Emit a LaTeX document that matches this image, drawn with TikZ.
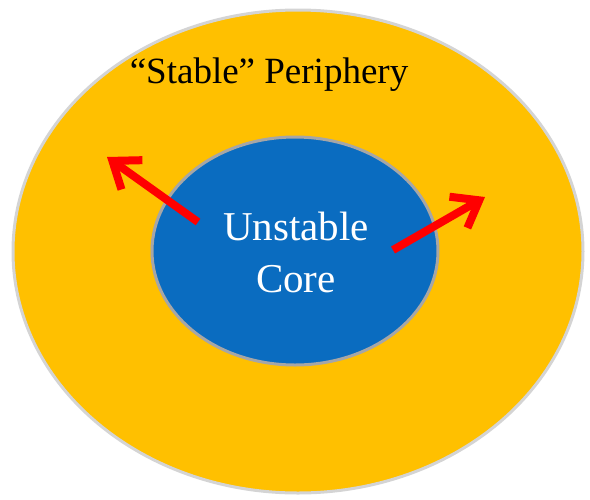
\documentclass[tikz,border=0pt]{standalone}
\usepackage{fontspec}
\setmainfont{Liberation Serif}
\usepackage{xcolor}
\usepackage{tikz}
\usetikzlibrary{arrows.meta, positioning, shapes.geometric}
\definecolor{periphfill}{HTML}{FFC000}
\definecolor{periphstroke}{HTML}{D4D4D4}
\definecolor{corefill}{HTML}{0A6CC0}
\definecolor{corestroke}{HTML}{A6A6A6}
\definecolor{arrowred}{HTML}{FF0000}
\tikzset{
    periph/.style={ellipse, draw=periphstroke, fill=periphfill, line width=3pt,
    minimum width=570pt, minimum height=483pt, inner sep=0pt},
    core/.style={ellipse, draw=corestroke, fill=corefill, line width=3pt,
    minimum width=286pt, minimum height=228pt, inner sep=0pt},
    coretext/.style={text=white, align=center, font=\fontsize{41}{52}\selectfont},
    periphtext/.style={text=black, font=\fontsize{37}{44}\selectfont},
    flow/.style={arrowred, line width=8pt,
    -{Straight Barb[length=24pt, width=36pt, line width=8pt]}},
}

\begin{document}
\begin{tikzpicture}[x=1pt, y=-1pt]

        \useasboundingbox (0,0) rectangle (590,499);

% =========================================================
% Ellipses
% =========================================================

        \node[periph] (outer) at (298,251.5) {};
        \node[core]   (inner) at (295,251) {};

        \node[periphtext, anchor=base] (plabel) at (269,83) {``Stable'' Periphery};
        \node[coretext] (clabel) at (296,252) {Unstable\\Core};

% =========================================================
% Arrows (core -> periphery)
% =========================================================

        \coordinate (ltail) at (198,222);
        \coordinate (lhead) at (107,157);
        \coordinate (rtail) at (393,250);
        \coordinate (rhead) at (485,197);

        \draw[flow] (ltail) -- (lhead);
        \draw[flow] (rtail) -- (rhead);

    \end{tikzpicture}
\end{document}
